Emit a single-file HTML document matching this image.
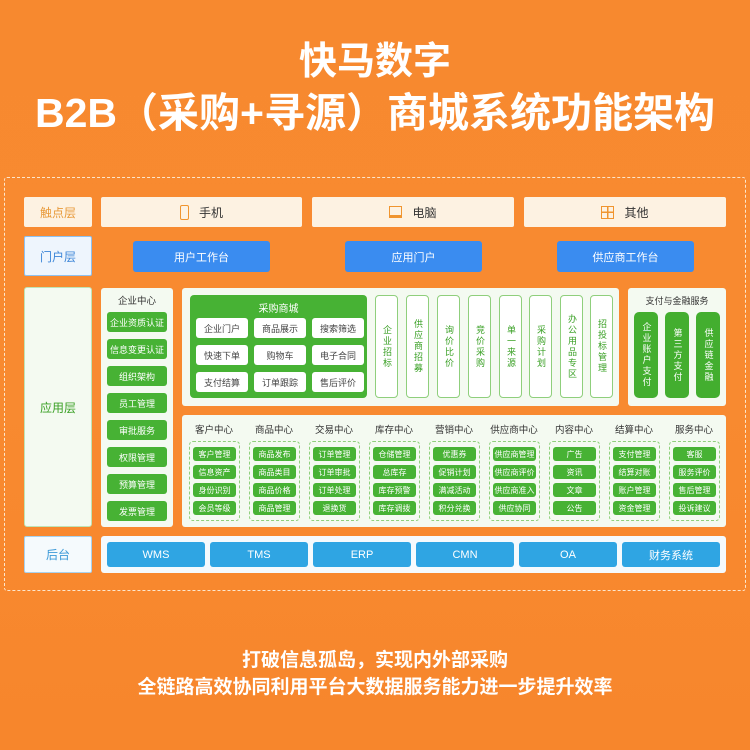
<!DOCTYPE html>
<html><head><meta charset="utf-8"><style>
*{margin:0;padding:0;box-sizing:border-box}
body{width:750px;height:750px;overflow:hidden;background:linear-gradient(180deg,#f7892f,#f88a30 50%,#f7862c);font-family:"Liberation Sans","Noto Sans CJK SC",sans-serif;position:relative}
.a{position:absolute}
.t{color:#fff;font-weight:bold;text-align:center;width:750px;left:0}
.c{display:flex;align-items:center;justify-content:center;text-align:center}
.tp{background:#fdf2e2;border-radius:2px;font-size:12px;color:#333}
.lb{font-size:12px;border-radius:2px}
.bl{background:#3a8cf0;color:#fff;font-size:11px;border-radius:3px}
.wh{background:#f4faf1;border-radius:3px}
.g{background:#47b234;color:#fff;font-size:9px;border-radius:3px}
.w{background:#fff;color:#444;font-size:9px;border-radius:3px}
.v{border:1px solid #8fcf7c;background:#fff;border-radius:4px;color:#3aa025;font-size:9px;line-height:11px;width:23px;writing-mode:vertical-rl;letter-spacing:2px}
.vg{background:#43ae2f;color:#fff;font-size:9px;line-height:11px;border-radius:5px;writing-mode:vertical-rl;letter-spacing:2px}
.h{font-size:9.5px;color:#333;width:60px;text-align:center}
.d{border:1px dashed #8fcf7c;border-radius:4px;width:51px;height:80px}
.s{width:43px;height:14px;font-size:8px}
.bb{background:#2fa5e3;color:#fff;font-size:11px;border-radius:3px}
</style></head><body>
<div class="a t" style="top:42px;font-size:38px;line-height:40px">快马数字</div>
<div class="a t" style="top:92px;font-size:41px;line-height:42px">B2B（采购+寻源）商城系统功能架构</div>
<div class="a" style="left:4px;top:177px;width:742px;height:414px;border:1.5px dashed #fde6cc;border-radius:3px"></div>

<div class="a c tp lb" style="left:24px;top:197px;width:68px;height:30px;color:#e89a3a">触点层</div>
<div class="a c tp" style="left:101px;top:197px;width:201px;height:30px"><span style="display:inline-block;width:9px;height:15px;border:1.5px solid #f0952f;border-radius:2px;margin-right:10px"></span>手机</div>
<div class="a c tp" style="left:312px;top:197px;width:202px;height:30px"><span style="display:inline-block;width:13px;height:12px;border:1.5px solid #f0952f;border-bottom-width:3px;margin-right:10px"></span>电脑</div>
<div class="a c tp" style="left:524px;top:197px;width:202px;height:30px"><span style="display:inline-block;width:13px;height:13px;border:1.5px solid #f0952f;margin-right:10px;background:linear-gradient(90deg,transparent 5px,#f0952f 5px,#f0952f 6.5px,transparent 6.5px),linear-gradient(0deg,transparent 5px,#f0952f 5px,#f0952f 6.5px,transparent 6.5px)"></span>其他</div>

<div class="a c lb" style="left:24px;top:236px;width:68px;height:40px;background:#eef5fd;border:1px solid #8ec1f0;color:#3d86d8">门户层</div>
<div class="a c bl" style="left:133px;top:241px;width:137px;height:31px">用户工作台</div>
<div class="a c bl" style="left:345px;top:241px;width:137px;height:31px">应用门户</div>
<div class="a c bl" style="left:557px;top:241px;width:137px;height:31px">供应商工作台</div>

<div class="a c wh lb" style="left:24px;top:287px;width:68px;height:240px;color:#3aa025;border:1px solid #bfe3b5">应用层</div>
<div class="a wh" style="left:101px;top:288px;width:72px;height:239px"></div>
<div class="a" style="left:101px;top:293px;width:72px;text-align:center;font-size:9.5px;color:#333">企业中心</div>
<div class="a c g" style="left:107px;top:312px;width:60px;height:20px">企业资质认证</div>
<div class="a c g" style="left:107px;top:339px;width:60px;height:20px">信息变更认证</div>
<div class="a c g" style="left:107px;top:366px;width:60px;height:20px">组织架构</div>
<div class="a c g" style="left:107px;top:393px;width:60px;height:20px">员工管理</div>
<div class="a c g" style="left:107px;top:420px;width:60px;height:20px">审批服务</div>
<div class="a c g" style="left:107px;top:447px;width:60px;height:20px">权限管理</div>
<div class="a c g" style="left:107px;top:474px;width:60px;height:20px">预算管理</div>
<div class="a c g" style="left:107px;top:501px;width:60px;height:20px">发票管理</div>

<div class="a wh" style="left:182px;top:288px;width:437px;height:118px"></div>
<div class="a" style="left:190px;top:295px;width:177px;height:103px;background:#47b234;border-radius:4px"></div>
<div class="a" style="left:190px;top:300px;width:177px;text-align:center;color:#fff;font-size:10px">采购商城</div>
<div class="a c w" style="left:196px;top:318px;width:52px;height:20px">企业门户</div>
<div class="a c w" style="left:254px;top:318px;width:52px;height:20px">商品展示</div>
<div class="a c w" style="left:312px;top:318px;width:52px;height:20px">搜索筛选</div>
<div class="a c w" style="left:196px;top:345px;width:52px;height:20px">快速下单</div>
<div class="a c w" style="left:254px;top:345px;width:52px;height:20px">购物车</div>
<div class="a c w" style="left:312px;top:345px;width:52px;height:20px">电子合同</div>
<div class="a c w" style="left:196px;top:372px;width:52px;height:20px">支付结算</div>
<div class="a c w" style="left:254px;top:372px;width:52px;height:20px">订单跟踪</div>
<div class="a c w" style="left:312px;top:372px;width:52px;height:20px">售后评价</div>
<div class="a c v" style="left:375px;top:295px;height:103px">企业招标</div>
<div class="a c v" style="left:406px;top:295px;height:103px">供应商招募</div>
<div class="a c v" style="left:437px;top:295px;height:103px">询价比价</div>
<div class="a c v" style="left:468px;top:295px;height:103px">竞价采购</div>
<div class="a c v" style="left:499px;top:295px;height:103px">单一来源</div>
<div class="a c v" style="left:529px;top:295px;height:103px">采购计划</div>
<div class="a c v" style="left:560px;top:295px;height:103px">办公用品专区</div>
<div class="a c v" style="left:590px;top:295px;height:103px">招投标管理</div>

<div class="a wh" style="left:628px;top:288px;width:98px;height:118px"></div>
<div class="a" style="left:628px;top:294px;width:98px;text-align:center;font-size:9px;color:#333">支付与金融服务</div>
<div class="a c vg" style="left:634px;top:312px;width:24px;height:86px">企业账户支付</div>
<div class="a c vg" style="left:665px;top:312px;width:24px;height:86px">第三方支付</div>
<div class="a c vg" style="left:696px;top:312px;width:24px;height:86px">供应链金融</div>

<div class="a wh" style="left:182px;top:415px;width:544px;height:112px"></div>
<div class="a h" style="left:184px;top:422px">客户中心</div>
<div class="a h" style="left:244px;top:422px">商品中心</div>
<div class="a h" style="left:304px;top:422px">交易中心</div>
<div class="a h" style="left:364px;top:422px">库存中心</div>
<div class="a h" style="left:424px;top:422px">营销中心</div>
<div class="a h" style="left:484px;top:422px">供应商中心</div>
<div class="a h" style="left:544px;top:422px">内容中心</div>
<div class="a h" style="left:604px;top:422px">结算中心</div>
<div class="a h" style="left:664px;top:422px">服务中心</div>

<div class="a d" style="left:189px;top:441px"></div>
<div class="a d" style="left:249px;top:441px"></div>
<div class="a d" style="left:309px;top:441px"></div>
<div class="a d" style="left:369px;top:441px"></div>
<div class="a d" style="left:429px;top:441px"></div>
<div class="a d" style="left:489px;top:441px"></div>
<div class="a d" style="left:549px;top:441px"></div>
<div class="a d" style="left:609px;top:441px"></div>
<div class="a d" style="left:669px;top:441px"></div>

<div class="a c g s" style="left:193px;top:447px">客户管理</div><div class="a c g s" style="left:193px;top:465px">信息资产</div><div class="a c g s" style="left:193px;top:483px">身份识别</div><div class="a c g s" style="left:193px;top:501px">会员等级</div>
<div class="a c g s" style="left:253px;top:447px">商品发布</div><div class="a c g s" style="left:253px;top:465px">商品类目</div><div class="a c g s" style="left:253px;top:483px">商品价格</div><div class="a c g s" style="left:253px;top:501px">商品管理</div>
<div class="a c g s" style="left:313px;top:447px">订单管理</div><div class="a c g s" style="left:313px;top:465px">订单审批</div><div class="a c g s" style="left:313px;top:483px">订单处理</div><div class="a c g s" style="left:313px;top:501px">退换货</div>
<div class="a c g s" style="left:373px;top:447px">仓储管理</div><div class="a c g s" style="left:373px;top:465px">总库存</div><div class="a c g s" style="left:373px;top:483px">库存预警</div><div class="a c g s" style="left:373px;top:501px">库存调拨</div>
<div class="a c g s" style="left:433px;top:447px">优惠券</div><div class="a c g s" style="left:433px;top:465px">促销计划</div><div class="a c g s" style="left:433px;top:483px">满减活动</div><div class="a c g s" style="left:433px;top:501px">积分兑换</div>
<div class="a c g s" style="left:493px;top:447px">供应商管理</div><div class="a c g s" style="left:493px;top:465px">供应商评价</div><div class="a c g s" style="left:493px;top:483px">供应商准入</div><div class="a c g s" style="left:493px;top:501px">供应协同</div>
<div class="a c g s" style="left:553px;top:447px">广告</div><div class="a c g s" style="left:553px;top:465px">资讯</div><div class="a c g s" style="left:553px;top:483px">文章</div><div class="a c g s" style="left:553px;top:501px">公告</div>
<div class="a c g s" style="left:613px;top:447px">支付管理</div><div class="a c g s" style="left:613px;top:465px">结算对账</div><div class="a c g s" style="left:613px;top:483px">账户管理</div><div class="a c g s" style="left:613px;top:501px">资金管理</div>
<div class="a c g s" style="left:673px;top:447px">客服</div><div class="a c g s" style="left:673px;top:465px">服务评价</div><div class="a c g s" style="left:673px;top:483px">售后管理</div><div class="a c g s" style="left:673px;top:501px">投诉建议</div>

<div class="a c lb" style="left:24px;top:536px;width:68px;height:37px;background:#f5fafd;border:1px solid #a8d2ee;color:#3d9ad8">后台</div>
<div class="a" style="left:101px;top:536px;width:625px;height:37px;background:#f5fafd;border-radius:3px"></div>
<div class="a c bb" style="left:107px;top:542px;width:98px;height:25px">WMS</div>
<div class="a c bb" style="left:210px;top:542px;width:98px;height:25px">TMS</div>
<div class="a c bb" style="left:313px;top:542px;width:98px;height:25px">ERP</div>
<div class="a c bb" style="left:416px;top:542px;width:98px;height:25px">CMN</div>
<div class="a c bb" style="left:519px;top:542px;width:98px;height:25px">OA</div>
<div class="a c bb" style="left:622px;top:542px;width:98px;height:25px">财务系统</div>

<div class="a t" style="top:649px;font-size:19px;line-height:24px">打破信息孤岛，实现内外部采购</div>
<div class="a t" style="top:676px;font-size:19px;line-height:24px">全链路高效协同利用平台大数据服务能力进一步提升效率</div>
</body></html>
